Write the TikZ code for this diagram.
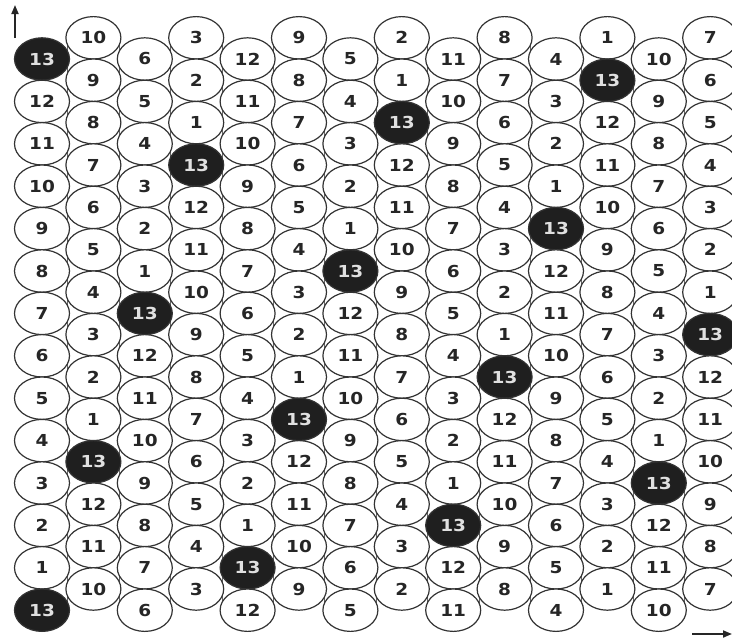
\documentclass[tikz,border=0pt]{standalone}
\usepackage{fontspec}
\setmainfont{DejaVu Sans}
\usetikzlibrary{shapes.geometric,arrows.meta}
\begin{document}
\begin{tikzpicture}[x=1pt,y=-1pt,
 cell/.style={ellipse, draw=black!80, line width=1.2pt, minimum width=55pt, minimum height=42.4pt, inner sep=0pt, font=\fontsize{16.5}{16.5}\selectfont\bfseries},
 cellw/.style={cell, fill=white, text=black!85},
 cellb/.style={cell, fill=black!88, text=white!88!black},
 gridline/.style={draw=black!60, line width=0.8pt},
 axis/.style={draw=black!85, line width=1.8pt, -{Triangle[length=9pt,width=7pt]}}]
\useasboundingbox (0,0) rectangle (732,640);
\foreach \c in {0,...,12} {
  \coordinate (t\c) at ({67.7+51.4*\c},37);
  \coordinate (b\c) at ({67.7+51.4*\c},612);
  \draw[gridline] (t\c) -- (b\c);
}
\foreach \s [count=\cc from 0] in {13,10,6,3,12,9,5,2,11,8,4,1,10,7} {
  \foreach \r in {0,...,13} {
    \pgfmathsetmacro\xx{42+51.4*\cc}
    \pgfmathsetmacro\yy{59-21.2*mod(\cc,2)+42.4*\r}
    \pgfmathtruncatemacro\v{mod(\s-1-\r+26,13)+1}
    \ifnum\v=13 \def\sty{cellb}\else\def\sty{cellw}\fi
    \node[\sty] (n-\cc-\r) at (\xx,\yy) {\scalebox{1.12}[1]{\v}};
  }
}
\coordinate (va1) at (15,38);
\coordinate (va2) at (15,5);
\draw[axis] (va1) -- (va2);
\coordinate (ha1) at (692,634);
\coordinate (ha2) at (732,634);
\draw[axis] (ha1) -- (ha2);
\end{tikzpicture}
\end{document}
